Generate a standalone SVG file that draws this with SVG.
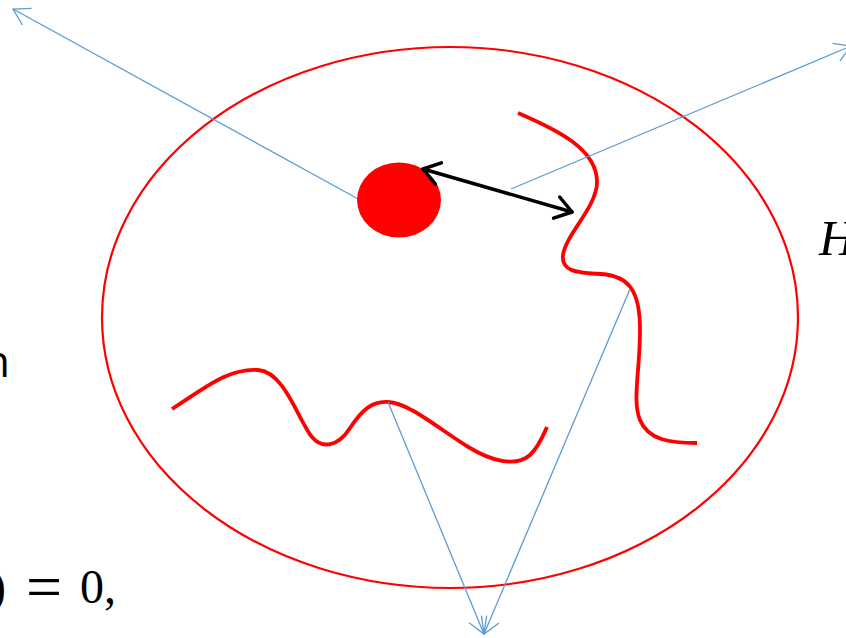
<svg xmlns="http://www.w3.org/2000/svg" width="846" height="638" viewBox="0 0 846 638">
<style>
.blue{stroke:#5B9BD5;stroke-width:1.3;fill:none}
.blk{stroke:#000;stroke-width:3.5;fill:none;stroke-linecap:round}
.red{stroke:#FF0000;fill:none;stroke-linecap:butt}
.math{font-family:"Liberation Serif","DejaVu Serif",serif;fill:#000}
</style>
<defs>
<marker id="ba" markerUnits="userSpaceOnUse" markerWidth="22" markerHeight="22" refX="18" refY="10" orient="auto" overflow="visible">
<path d="M2,0.5 L18,10 L2,19.5" fill="none" stroke="#5B9BD5" stroke-width="1.3"/>
</marker>
<marker id="ka" markerUnits="userSpaceOnUse" markerWidth="26" markerHeight="26" refX="19" refY="12" orient="auto-start-reverse" overflow="visible">
<path d="M3,1 L19,12 L3,23" fill="none" stroke="#000" stroke-width="3.5" stroke-linecap="round" stroke-linejoin="round"/>
</marker>
</defs>
<rect width="846" height="638" fill="#fff"/>
<g id="domain"><ellipse cx="450" cy="317.5" rx="348" ry="270.5" class="red" stroke-width="2.2"/></g>
<g id="curve-right"><path class="red" stroke-width="3.8" d="M518,113 C560,131 597,150 597,182 C597,207 566,234 563,255 C561,271 576,273 601,274 C630,276 640,292 640,330 C640,372 632,400 640,420 C648,440 670,443 697,443"/></g>
<g id="curve-bottom"><path class="red" stroke-width="3.8" d="M172,409 C205,388 228,368 258,370 C285,372 298,420 312,437 C322,449 338,447 350,428 C362,410 372,401 388,402 C410,403 440,430 470,448 C490,460 515,468 530,455 C538,448 543,436 547,427"/></g>
<g id="connectors">
<line class="blue" x1="360" y1="200" x2="13" y2="9" marker-end="url(#ba)"/>
<line class="blue" x1="511" y1="189" x2="851" y2="46" marker-end="url(#ba)"/>
<line class="blue" x1="388" y1="402" x2="484" y2="634" marker-end="url(#ba)"/>
<line class="blue" x1="630" y1="289" x2="484" y2="634" marker-end="url(#ba)"/>
</g>
<g id="particle"><ellipse cx="399" cy="200" rx="42" ry="37.5" fill="#FF0000"/></g>
<g id="distance-arrow"><line class="blk" x1="423" y1="169" x2="572" y2="212" marker-start="url(#ka)" marker-end="url(#ka)"/></g>
<g id="labels">
<text x="10" y="377" text-anchor="end" font-family="Open Sans, Liberation Sans, sans-serif" font-size="44" fill="#000">n</text>
<text x="819" y="255" class="math" font-size="50" font-style="italic">H</text>
<text class="math" font-size="48" y="603"><tspan x="-10">)</tspan> <tspan x="26" y="608" font-size="64">=</tspan> <tspan x="80" y="603">0,</tspan></text>
</g>
</svg>
